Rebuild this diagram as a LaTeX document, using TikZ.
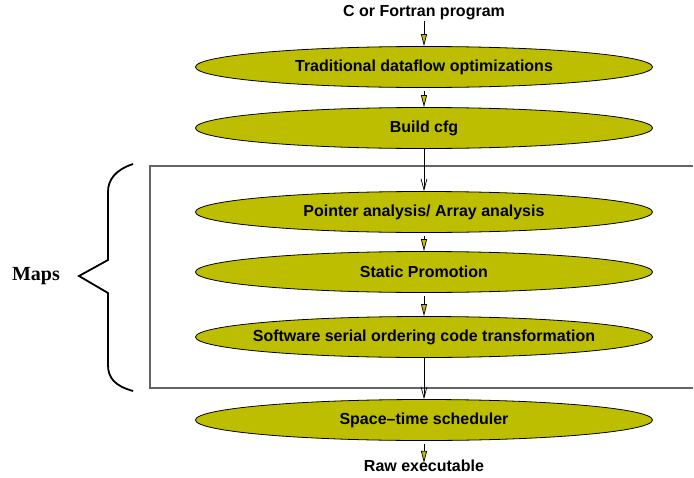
\documentclass[tikz,border=0pt]{standalone}
\usepackage{fontspec}
\setmainfont{Liberation Sans}
\newfontfamily\mapsfont{Liberation Serif}
\usetikzlibrary{shapes.geometric,arrows.meta}
\definecolor{oliveyel}{RGB}{190,190,0}
\definecolor{boxgray}{RGB}{100,100,100}
\tikzset{
  x=1pt,y=-1pt,
  stage/.style={ellipse,draw=black,line width=0.8pt,fill=oliveyel,minimum width=457pt,minimum height=41pt,inner xsep=-60pt,inner ysep=0pt,font=\fontsize{16}{19}\selectfont\bfseries},
  plain/.style={inner sep=1pt,font=\fontsize{16}{19}\selectfont\bfseries},
  yarrow/.style={draw=black,line width=0.7pt,-{Triangle[length=12pt,width=6pt,fill=oliveyel]}},
  barrow/.style={draw=black,line width=0.7pt,-{Straight Barb[length=11pt,width=6pt]}},
}
\begin{document}
\begin{tikzpicture}
\useasboundingbox (0,0) rectangle (694,477);
% box
\draw[boxgray,line width=1.2pt] (693,166) -- (150,166) -- (150,388) -- (693,388);
% brace
\draw[line width=1.8pt,line join=miter] (133,164) .. controls (115,170) and (108,180) .. (108,192) -- (108,260) -- (79,276) -- (108,293) -- (108,365) .. controls (108,378) and (115,386) .. (133,391);
\node[font=\fontsize{20}{23}\selectfont\bfseries\mapsfont] (maps) at (36,276) {Maps};
% nodes
\node[plain] (src) at (424,13) {C or Fortran program};
\node[stage] (trad) at (424,67) {Traditional dataflow optimizations};
\node[stage] (cfg) at (424,128) {Build cfg};
\node[stage] (ptr) at (424,212) {Pointer analysis/ Array analysis};
\node[stage] (stat) at (424,272) {Static Promotion};
\node[stage] (soft) at (424,337) {Software serial ordering code transformation};
\node[stage] (sched) at (424,420) {Space--time scheduler};
\node[plain] (raw) at (424,466) {Raw executable};
% connectors
\draw[yarrow] (src.south) -- (trad.north);
\draw[yarrow] ([yshift=-3pt]trad.south) -- (cfg.north);
\draw[barrow] (cfg.south) -- (ptr.north);
\draw[yarrow] ([yshift=-3pt]ptr.south) -- (stat.north);
\draw[yarrow] ([yshift=-3pt]stat.south) -- (soft.north);
\draw[barrow] (soft.south) -- (sched.north);
\draw[yarrow] ([yshift=-3pt]sched.south) -- ([yshift=-4pt]raw.north);
\end{tikzpicture}
\end{document}
